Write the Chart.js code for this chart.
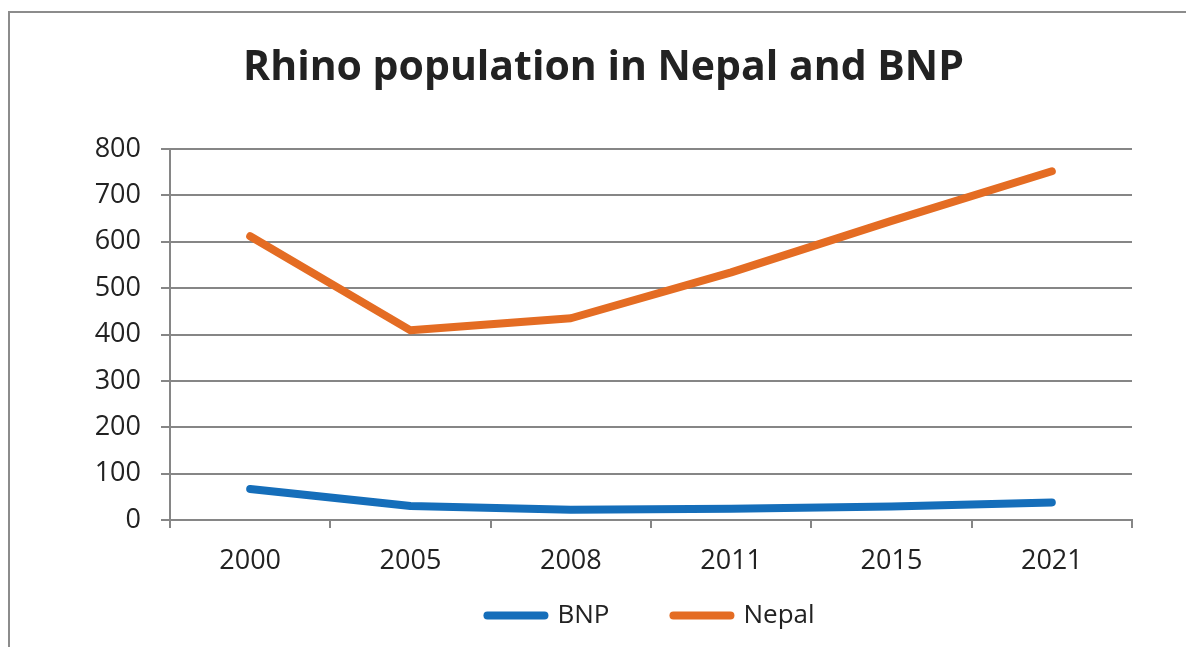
<!DOCTYPE html>
<html>
<head>
<meta charset="utf-8">
<title>Rhino population in Nepal and BNP</title>
<script src="https://cdn.jsdelivr.net/npm/chart.js@4/dist/chart.umd.min.js"></script>
<style>
  html, body { margin: 0; padding: 0; background: #ffffff; }
  #wrap { width: 1186px; height: 647px; position: relative; }
</style>
</head>
<body>
<div id="wrap"><canvas id="chart" width="1186" height="647"></canvas></div>
<script>
// Census years and rhino counts
const years = ['2000', '2005', '2008', '2011', '2015', '2021'];
const bnpCounts = [67, 30, 22, 24, 29, 38];
const nepalCounts = [612, 409, 435, 534, 645, 752];
const yTicks = [0, 100, 200, 300, 400, 500, 600, 700, 800];

const BLUE = '#156EBA';
const ORANGE = '#E46C23';
const GRID = '#868686';
const TEXT = '#222222';
const LINE_WIDTH = 8;

Chart.defaults.font.family = "'Open Sans', 'DejaVu Sans', sans-serif";
Chart.defaults.color = TEXT;

// Grey frame around the whole chart
const framePlugin = {
  id: 'frame',
  beforeDraw(chart) {
    const ctx = chart.ctx;
    ctx.save();
    ctx.fillStyle = '#ffffff';
    ctx.fillRect(0, 0, chart.width, chart.height);
    ctx.strokeStyle = '#8c8c8c';
    ctx.lineWidth = 2;
    ctx.strokeRect(9, 12, chart.width + 20, chart.height + 20);
    ctx.restore();
  }
};

// The legend's wide horizontal gap also pads it vertically, so pull the
// legend box up to sit just under the axis labels and give it room to draw.
const legendPlacement = {
  id: 'legendPlacement',
  afterLayout(chart) {
    const lg = chart.legend;
    if (!lg) return;
    const top = chart.chartArea.bottom + 18.5;
    const dy = top - lg.top;
    lg.top = top;
    lg.height = 110;
    lg.bottom = top + 110;
    (lg.legendHitBoxes || []).forEach(b => { b.top += dy; });
  }
};

new Chart(document.getElementById('chart'), {
  type: 'line',
  data: {
    labels: years,
    datasets: [
      {
        label: 'BNP',
        data: bnpCounts,
        borderColor: BLUE,
        backgroundColor: BLUE,
        borderWidth: LINE_WIDTH,
        borderCapStyle: 'round',
        borderJoinStyle: 'round',
        pointRadius: 0,
        tension: 0
      },
      {
        label: 'Nepal',
        data: nepalCounts,
        borderColor: ORANGE,
        backgroundColor: ORANGE,
        borderWidth: LINE_WIDTH,
        borderCapStyle: 'round',
        borderJoinStyle: 'round',
        pointRadius: 0,
        tension: 0
      }
    ]
  },
  options: {
    responsive: false,
    animation: false,
    devicePixelRatio: 1,
    layout: { padding: { left: 75, right: 54, top: 0, bottom: 10 } },
    plugins: {
      title: {
        display: true,
        text: 'Rhino population in Nepal and BNP',
        color: TEXT,
        font: { size: 41, weight: 'bold' },
        padding: { top: 44, bottom: 55.8 }
      },
      legend: {
        position: 'bottom',
        fullSize: false,
        maxHeight: 57,
        labels: {
          usePointStyle: true,
          pointStyle: 'line',
          pointStyleWidth: 57,
          padding: 64,
          color: TEXT,
          font: { size: 26 },
          generateLabels(chart) {
            const base = Chart.defaults.plugins.legend.labels.generateLabels(chart);
            return base.map((item, i) => Object.assign(item, {
              lineCap: 'round',
              lineWidth: chart.data.datasets[i].borderWidth
            }));
          }
        }
      },
      tooltip: { enabled: false }
    },
    scales: {
      x: {
        type: 'category',
        offset: true,
        afterFit(scale) { scale.height = 60; },
        grid: {
          offset: true,
          drawOnChartArea: false,
          drawTicks: true,
          tickLength: 8,
          color: GRID,
          lineWidth: 2
        },
        border: { color: GRID, width: 2 },
        ticks: { color: TEXT, font: { size: 27 }, padding: 17, maxRotation: 0 }
      },
      y: {
        min: 0,
        max: 800,
        afterFit(scale) { scale.width = 95; },
        afterBuildTicks(scale) { scale.ticks = yTicks.map(v => ({ value: v })); },
        grid: {
          color: GRID,
          lineWidth: 2,
          drawTicks: true,
          tickLength: 9
        },
        border: { color: GRID, width: 2 },
        ticks: { color: TEXT, font: { size: 27 }, padding: 20 }
      }
    }
  },
  plugins: [framePlugin, legendPlacement]
});
</script>
</body>
</html>
